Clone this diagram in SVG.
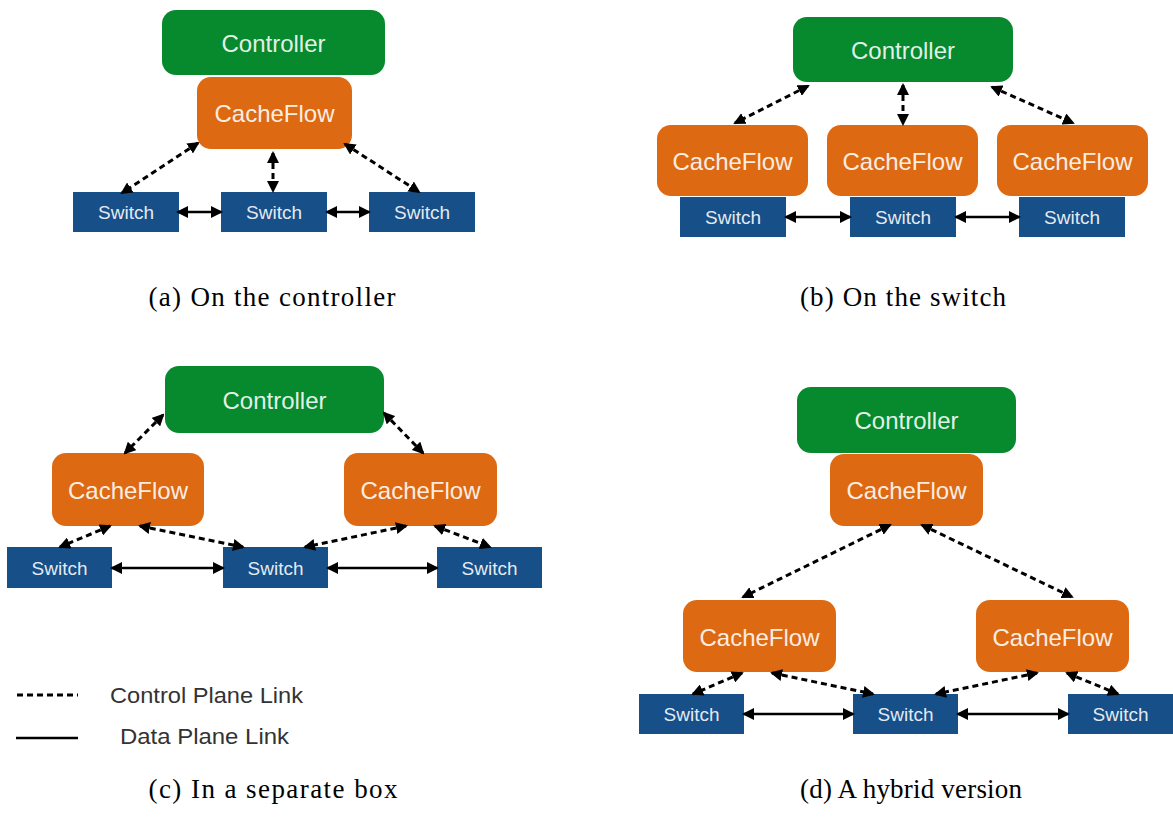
<svg xmlns="http://www.w3.org/2000/svg" width="1173" height="834" viewBox="0 0 1173 834">
  <defs>
    <style>
      .ctl { fill: #07892e; }
      .cf { fill: #dd6a13; }
      .sw { fill: #174f88; }
      .lbl { font-family: "Liberation Sans", Arial, sans-serif; fill: #ffffff; fill-opacity: 0.9; text-anchor: middle; }
      .big { font-size: 24px; }
      .small { font-size: 19px; }
      .ctrl-link { stroke: #000; stroke-width: 3; stroke-dasharray: 6 4; fill: none; marker-start: url(#head); marker-end: url(#head); }
      .data-link { stroke: #000; stroke-width: 2.5; fill: none; marker-start: url(#head); marker-end: url(#head); }
      .cap { font-family: "Liberation Serif", "Times New Roman", serif; font-size: 27px; fill: #000; text-anchor: middle; }
      .leg { font-family: "Liberation Sans", Arial, sans-serif; font-size: 22px; fill: #333; }
    </style>
    <marker id="head" viewBox="0 0 12 12" refX="10" refY="6" markerWidth="12" markerHeight="12" markerUnits="userSpaceOnUse" orient="auto-start-reverse">
      <path d="M0,0 L12,6 L0,12 z" fill="#000"/>
    </marker>
  </defs>
  <rect width="1173" height="834" fill="#fff"/>

  <!-- (a) CacheFlow on the controller -->
  <g id="a-controller"><rect class="ctl" x="162" y="10" width="223" height="65" rx="14"/><text class="lbl big" x="273.5" y="52">Controller</text></g>
  <g id="a-cacheflow"><rect class="cf" x="197" y="77" width="155" height="72" rx="14"/><text class="lbl big" x="274.5" y="122">CacheFlow</text></g>
  <g id="a-switch1"><rect class="sw" x="73" y="192" width="106" height="40"/><text class="lbl small" x="126" y="219">Switch</text></g>
  <g id="a-switch2"><rect class="sw" x="221" y="192" width="106" height="40"/><text class="lbl small" x="274" y="219">Switch</text></g>
  <g id="a-switch3"><rect class="sw" x="369" y="192" width="106" height="40"/><text class="lbl small" x="422" y="219">Switch</text></g>

  <!-- (b) CacheFlow on each switch -->
  <g id="b-controller"><rect class="ctl" x="793" y="17" width="220" height="65" rx="14"/><text class="lbl big" x="903" y="59">Controller</text></g>
  <g id="b-cacheflow1"><rect class="cf" x="657" y="125" width="151" height="71" rx="14"/><text class="lbl big" x="732.5" y="170">CacheFlow</text></g>
  <g id="b-cacheflow2"><rect class="cf" x="827" y="125" width="151" height="71" rx="14"/><text class="lbl big" x="902.5" y="170">CacheFlow</text></g>
  <g id="b-cacheflow3"><rect class="cf" x="997" y="125" width="151" height="71" rx="14"/><text class="lbl big" x="1072.5" y="170">CacheFlow</text></g>
  <g id="b-switch1"><rect class="sw" x="680" y="197" width="106" height="40"/><text class="lbl small" x="733" y="224">Switch</text></g>
  <g id="b-switch2"><rect class="sw" x="850" y="197" width="106" height="40"/><text class="lbl small" x="903" y="224">Switch</text></g>
  <g id="b-switch3"><rect class="sw" x="1019" y="197" width="106" height="40"/><text class="lbl small" x="1072" y="224">Switch</text></g>

  <!-- (c) CacheFlow in a separate box -->
  <g id="c-controller"><rect class="ctl" x="165" y="366" width="219" height="67" rx="14"/><text class="lbl big" x="274.5" y="409">Controller</text></g>
  <g id="c-cacheflow1"><rect class="cf" x="52" y="453" width="152" height="73" rx="14"/><text class="lbl big" x="128" y="499">CacheFlow</text></g>
  <g id="c-cacheflow2"><rect class="cf" x="344" y="453" width="153" height="73" rx="14"/><text class="lbl big" x="420.5" y="499">CacheFlow</text></g>
  <g id="c-switch1"><rect class="sw" x="7" y="547" width="105" height="41"/><text class="lbl small" x="59.5" y="575">Switch</text></g>
  <g id="c-switch2"><rect class="sw" x="223" y="547" width="105" height="41"/><text class="lbl small" x="275.5" y="575">Switch</text></g>
  <g id="c-switch3"><rect class="sw" x="437" y="547" width="105" height="41"/><text class="lbl small" x="489.5" y="575">Switch</text></g>

  <!-- (d) hybrid version -->
  <g id="d-controller"><rect class="ctl" x="797" y="387" width="219" height="66" rx="14"/><text class="lbl big" x="906.5" y="429">Controller</text></g>
  <g id="d-cacheflow-top"><rect class="cf" x="830" y="454" width="153" height="72" rx="14"/><text class="lbl big" x="906.5" y="499">CacheFlow</text></g>
  <g id="d-cacheflow1"><rect class="cf" x="683" y="600" width="153" height="72" rx="14"/><text class="lbl big" x="759.5" y="646">CacheFlow</text></g>
  <g id="d-cacheflow2"><rect class="cf" x="976" y="600" width="153" height="72" rx="14"/><text class="lbl big" x="1052.5" y="646">CacheFlow</text></g>
  <g id="d-switch1"><rect class="sw" x="639" y="694" width="105" height="40"/><text class="lbl small" x="691.5" y="721">Switch</text></g>
  <g id="d-switch2"><rect class="sw" x="853" y="694" width="105" height="40"/><text class="lbl small" x="905.5" y="721">Switch</text></g>
  <g id="d-switch3"><rect class="sw" x="1068" y="694" width="105" height="40"/><text class="lbl small" x="1120.5" y="721">Switch</text></g>

  <!-- links -->
  <g id="connectors">
    <line class="ctrl-link" x1="198" y1="143" x2="122" y2="193"/>
    <line class="ctrl-link" x1="273" y1="153" x2="273" y2="191"/>
    <line class="ctrl-link" x1="345" y1="144" x2="419" y2="192"/>
    <line class="data-link" x1="178" y1="212" x2="221" y2="212"/>
    <line class="data-link" x1="327" y1="212" x2="369" y2="212"/>

    <line class="ctrl-link" x1="808" y1="86" x2="735" y2="123"/>
    <line class="ctrl-link" x1="903" y1="85" x2="903" y2="124"/>
    <line class="ctrl-link" x1="992" y1="87" x2="1073" y2="123"/>
    <line class="data-link" x1="786" y1="217" x2="850" y2="217"/>
    <line class="data-link" x1="956" y1="217" x2="1019" y2="217"/>

    <line class="ctrl-link" x1="163" y1="415" x2="125" y2="453"/>
    <line class="ctrl-link" x1="384" y1="413" x2="423" y2="453"/>
    <line class="ctrl-link" x1="110" y1="526" x2="60" y2="547"/>
    <line class="ctrl-link" x1="140" y1="526" x2="243" y2="547"/>
    <line class="ctrl-link" x1="406" y1="526" x2="305" y2="547"/>
    <line class="ctrl-link" x1="435" y1="526" x2="490" y2="547"/>
    <line class="data-link" x1="112" y1="568" x2="223" y2="568"/>
    <line class="data-link" x1="328" y1="568" x2="437" y2="568"/>

    <line class="ctrl-link" x1="890" y1="525" x2="743" y2="597"/>
    <line class="ctrl-link" x1="922" y1="525" x2="1072" y2="597"/>
    <line class="ctrl-link" x1="742" y1="673" x2="693" y2="694"/>
    <line class="ctrl-link" x1="772" y1="673" x2="873" y2="694"/>
    <line class="ctrl-link" x1="1037" y1="673" x2="936" y2="694"/>
    <line class="ctrl-link" x1="1067" y1="673" x2="1118" y2="694"/>
    <line class="data-link" x1="744" y1="714" x2="853" y2="714"/>
    <line class="data-link" x1="958" y1="714" x2="1068" y2="714"/>
  </g>

  <!-- legend -->
  <g id="legend">
    <line x1="17" y1="695" x2="78" y2="695" stroke="#000" stroke-width="3" stroke-dasharray="6 4"/>
    <line x1="16" y1="738" x2="78" y2="738" stroke="#000" stroke-width="2.5"/>
    <text class="leg" x="110" y="703" textLength="193" lengthAdjust="spacingAndGlyphs">Control Plane Link</text>
    <text class="leg" x="120" y="744" textLength="169" lengthAdjust="spacingAndGlyphs">Data Plane Link</text>
  </g>

  <!-- sub-figure captions -->
  <text class="cap" x="272" y="306" textLength="247">(a) On the controller</text>
  <text class="cap" x="903" y="306" textLength="206">(b) On the switch</text>
  <text class="cap" x="273" y="798" textLength="249">(c) In a separate box</text>
  <text class="cap" x="911" y="798" textLength="222">(d) A hybrid version</text>
</svg>
